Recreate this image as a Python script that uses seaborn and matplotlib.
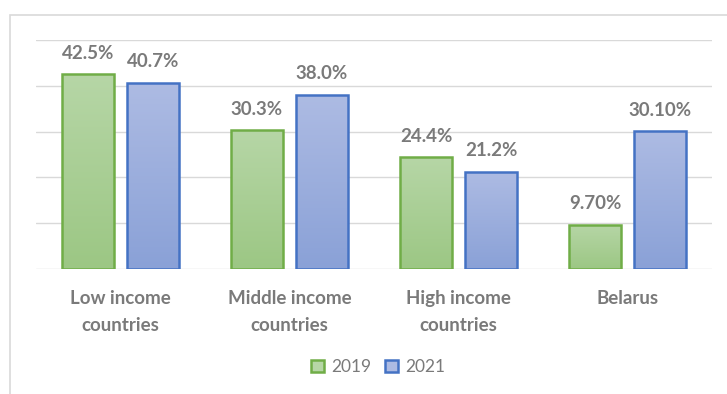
import numpy as np
import pandas as pd
import matplotlib
matplotlib.use("Agg")
import matplotlib.pyplot as plt
from matplotlib.colors import LinearSegmentedColormap
from matplotlib.patches import Rectangle
import seaborn as sns

categories = ["Low income\ncountries", "Middle income\ncountries", "High income\ncountries", "Belarus"]
years = ["2019", "2021"]
values_2019 = [42.5, 30.3, 24.4, 9.7]
values_2021 = [40.7, 38.0, 21.2, 30.1]
labels_2019 = ["42.5%", "30.3%", "24.4%", "9.70%"]
labels_2021 = ["40.7%", "38.0%", "21.2%", "30.10%"]

df = pd.DataFrame({
    "category": categories * 2,
    "year": [years[0]] * 4 + [years[1]] * 4,
    "value": values_2019 + values_2021,
})

sns.set_theme(style="white")
plt.rcParams["font.family"] = ["Lato", "DejaVu Sans"]

grey = "#7a7a7a"
edge_cols = {"2019": "#70ad47", "2021": "#4472c4"}
grad = {"2019": ("#b6d6a6", "#9cc784"), "2021": ("#adbbe3", "#8aa1d7")}

fig = plt.figure(figsize=(7.27, 3.94), dpi=100)
fig.patch.set_facecolor("white")
# chart frame (cropped at right/bottom)
fig.patches.append(Rectangle((10 / 727, -0.1), 1.2, 1 - 15 / 394 + 0.1,
                             transform=fig.transFigure, fill=False,
                             edgecolor="#d9d9d9", lw=1.2, zorder=0))

ax = fig.add_axes([36 / 727, 1 - 269 / 394, (712 - 36) / 727, (269 - 40) / 394])
sns.barplot(data=df, x="category", y="value", hue="year", order=categories,
            hue_order=years, palette=[edge_cols[y] for y in years],
            width=0.77, gap=0.2, ax=ax, legend=False, errorbar=None)

ax.set_ylim(0, 50)
ax.set_yticks(np.arange(0, 51, 10))
ax.set_yticklabels([])
ax.tick_params(axis="y", length=0)
ax.yaxis.grid(True, color="#d9d9d9", lw=1)
ax.set_axisbelow(True)
for s in ax.spines.values():
    s.set_visible(False)
ax.set_xlabel("")
ax.set_ylabel("")
ax.tick_params(axis="x", length=0, pad=15)
for t in ax.get_xticklabels():
    t.set_fontweight("bold")
    t.set_color(grey)
    t.set_fontsize(13.5)
    t.set_linespacing(1.75)

for cont, yr, labs in zip(ax.containers, years, [labels_2019, labels_2021]):
    cmap = LinearSegmentedColormap.from_list("g" + yr, [grad[yr][1], grad[yr][0]])
    for p in cont.patches:
        p.set_facecolor("none")
        p.set_edgecolor(edge_cols[yr])
        p.set_linewidth(1.8)
        p.set_zorder(3)
        x0, y0 = p.get_x(), p.get_y()
        w, h = p.get_width(), p.get_height()
        im = ax.imshow(np.linspace(0, 1, 100).reshape(-1, 1), cmap=cmap,
                       origin="lower", extent=[x0, x0 + w, y0, y0 + h],
                       aspect="auto", zorder=2)
        im.set_clip_path(p)
    ax.bar_label(cont, labels=labs, padding=9, color=grey, fontweight="bold",
                 fontsize=13.5)
ax.set_xlim(-0.5, 3.5)
ax.set_ylim(0, 50)

handles = [Rectangle((0, 0), 1, 1, facecolor=grad[y][0], edgecolor=edge_cols[y], lw=1.8)
           for y in years]
fig.legend(handles, years, loc="center", bbox_to_anchor=(378 / 727, 1 - 367 / 394),
           ncol=2, frameon=False, fontsize=12.5, labelcolor=grey,
           handlelength=0.75, handleheight=0.75, handletextpad=0.4, columnspacing=0.8)

fig.savefig("out.png", dpi=100)
